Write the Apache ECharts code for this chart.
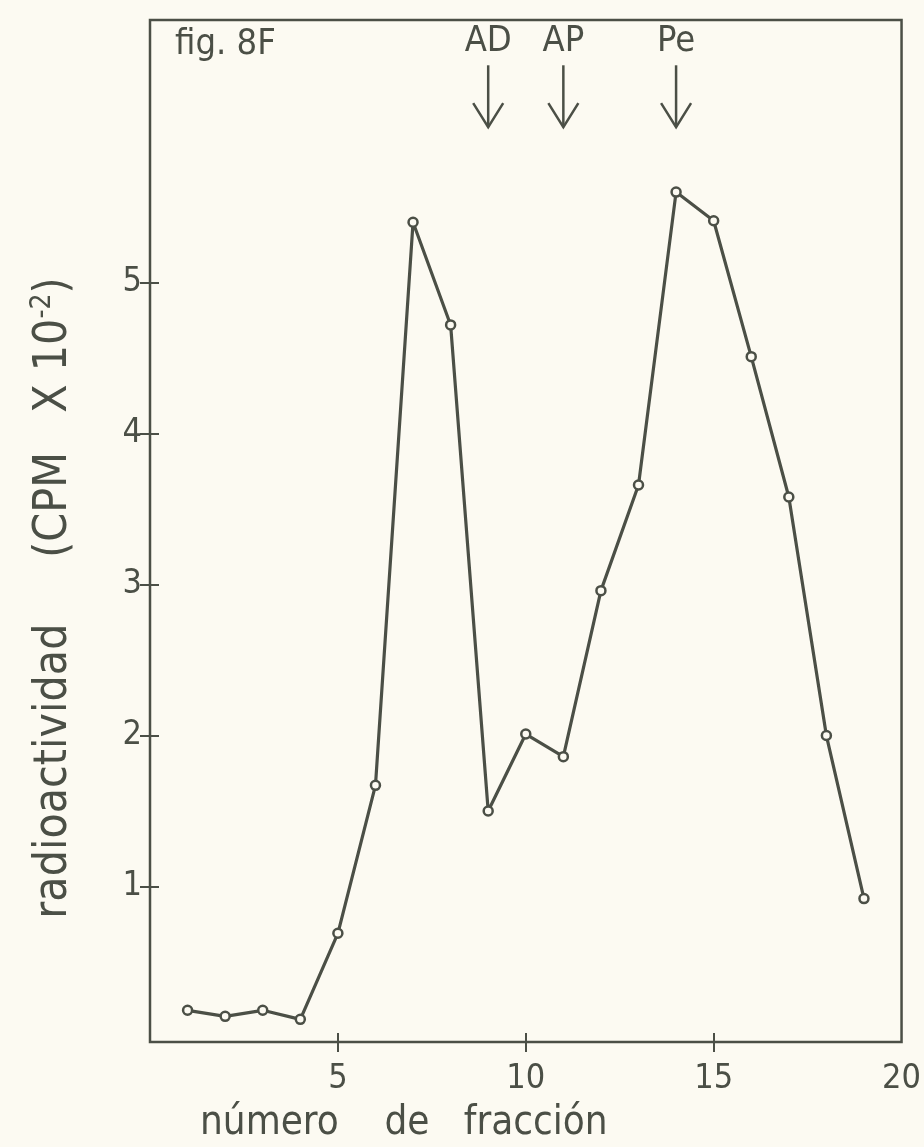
<!DOCTYPE html>
<html>
<head>
<meta charset="utf-8">
<script src="https://cdn.jsdelivr.net/npm/echarts@6/dist/echarts.min.js"></script>
<style>
html,body{margin:0;padding:0;background:#fcfaf2;}
#chart{width:924px;height:1147px;}
</style>
</head>
<body>
<div id="chart"></div>
<script>
// Data
const fractions = [1,2,3,4,5,6,7,8,9,10,11,12,13,14,15,16,17,18,19];
const radioactivity = [0.18,0.14,0.18,0.12,0.69,1.67,5.40,4.72,1.50,2.01,1.86,2.96,3.66,5.60,5.41,4.51,3.58,2.00,0.92];
const markerFractions = [9, 11, 14];
const markerLabels = ['AD', 'AP', 'Pe'];
const xTickLabels = [5, 10, 15, 20];
const xTickMarks = [5, 10, 15];
const yTickLabels = [1, 2, 3, 4, 5];

const ink = '#4b4f46';
const bg = '#fcfaf2';
const font = '"DejaVu Sans Condensed", "DejaVu Sans", sans-serif';
const Y_MIN = -0.03, Y_MAX = 6.74;

const chart = echarts.init(document.getElementById('chart'));
const option = {
  backgroundColor: bg,
  animation: false,
  title: {
    text: 'fig. 8F',
    left: 170, top: 22,
    textStyle: {color: ink, fontFamily: font, fontWeight: 'normal', fontSize: 36, letterSpacing: 2}
  },
  grid: {left: 150, right: 20, top: 20, bottom: 105, show: true, borderColor: ink, borderWidth: 2.5, backgroundColor: 'transparent'},
  xAxis: {
    type: 'value', min: 0, max: 20, interval: 5, position: 'bottom', offset: -9,
    axisLine: {show: false, onZero: false},
    axisTick: {show: true, length: 19, customValues: xTickMarks, lineStyle: {color: ink, width: 2}},
    axisLabel: {show: true, customValues: xTickLabels, color: ink, fontFamily: font, fontSize: 34, margin: 29},
    splitLine: {show: false}
  },
  yAxis: {
    type: 'value', min: Y_MIN, max: Y_MAX, position: 'left', offset: -9,
    axisLine: {show: false, onZero: false},
    axisTick: {show: true, length: 19, customValues: yTickLabels, lineStyle: {color: ink, width: 2}},
    axisLabel: {show: true, customValues: yTickLabels, color: ink, fontFamily: font, fontSize: 34, margin: 17},
    splitLine: {show: false}
  },
  graphic: [{
    type: 'text',
    x: 54, y: 598,
    rotation: Math.PI / 2,
    style: {
      text: '{a|radioactividad     (CPM   X 10}{s|-2}{a|)}',
      align: 'center', verticalAlign: 'middle',
      fill: ink,
      rich: {
        a: {fontFamily: font, fontSize: 46, fill: ink, letterSpacing: 3},
        s: {fontFamily: font, fontSize: 28, fill: ink, verticalAlign: 'top', padding: [0, 0, 22, 0]}
      }
    }
  }, {
    type: 'text',
    x: 200, y: 1144,
    style: {
      text: 'número    de   fracción',
      align: 'left', verticalAlign: 'bottom',
      fill: ink, fontFamily: font, fontSize: 40, letterSpacing: 1
    }
  }],
  series: [{
    type: 'line',
    data: fractions.map((f, i) => [f, radioactivity[i]]),
    symbol: 'circle', symbolSize: 9,
    lineStyle: {color: ink, width: 3.2},
    itemStyle: {color: bg, borderColor: ink, borderWidth: 2.5},
    z: 3
  }, {
    type: 'custom',
    data: markerFractions.map((f, i) => [f, markerLabels[i]]),
    renderItem: function (params, api) {
      const top = api.coord([api.value(0), 6.44]);
      const bot = api.coord([api.value(0), 6.03]);
      const x = top[0];
      return {
        type: 'group',
        children: [{
          type: 'line',
          shape: {x1: x, y1: top[1], x2: x, y2: bot[1]},
          style: {stroke: ink, lineWidth: 2.5}
        }, {
          type: 'polyline',
          shape: {points: [[x - 15, bot[1] - 24], [x, bot[1]], [x + 15, bot[1] - 24]]},
          style: {stroke: ink, lineWidth: 2.5, fill: null}
        }, {
          type: 'text',
          style: {
            text: markerLabels[params.dataIndex],
            x: x, y: top[1] - 6,
            align: 'center', verticalAlign: 'bottom',
            fill: ink, fontFamily: font, fontSize: 36
          }
        }]
      };
    }
  }]
};
chart.setOption(option);
</script>
</body>
</html>
